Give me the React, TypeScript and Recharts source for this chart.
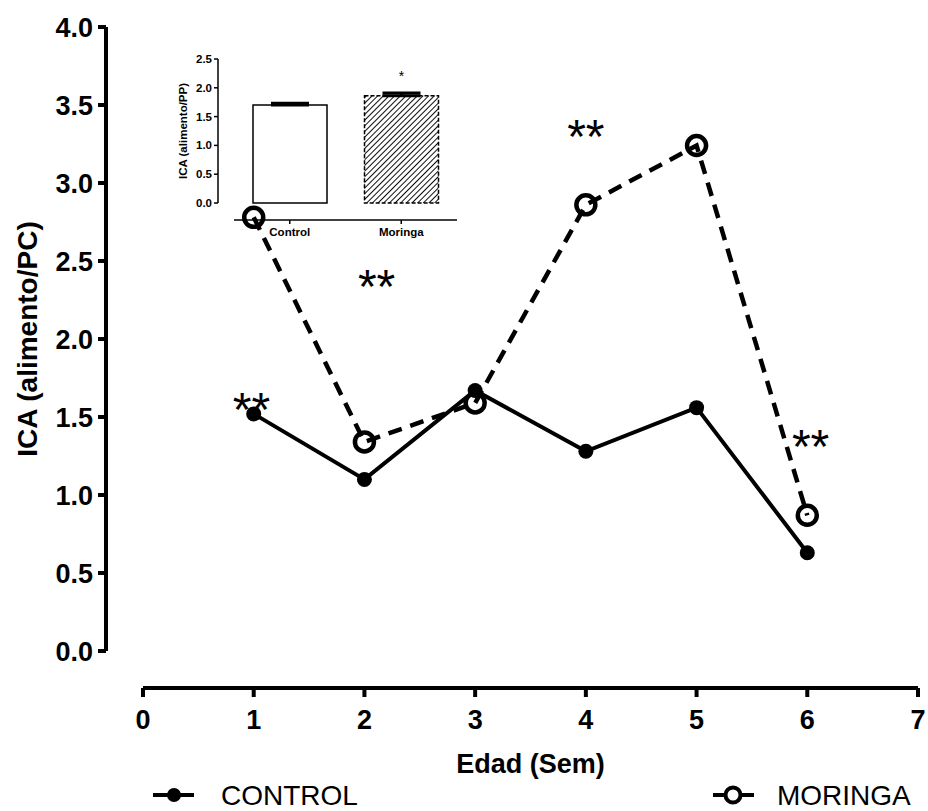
import React from 'react';
import {
  ComposedChart,
  Line,
  Scatter,
  XAxis,
  YAxis,
  Legend,
  BarChart,
  Bar,
  Cell,
  ErrorBar,
  LabelList,
} from 'recharts';

// ---- main chart data ----
const weeks = [1, 2, 3, 4, 5, 6];
const controlICA = [1.52, 1.1, 1.67, 1.28, 1.56, 0.63];
const moringaICA = [2.78, 1.34, 1.59, 2.86, 3.24, 0.87];
const xTicks = [0, 1, 2, 3, 4, 5, 6, 7];
const yTicks = [0, 0.5, 1, 1.5, 2, 2.5, 3, 3.5, 4];
const seriesNames = ['CONTROL', 'MORINGA'];

// significance marks (position in data units)
const sigX = [0.98, 2.11, 4.0, 6.03];
const sigY = [1.59, 2.38, 3.34, 1.35];
const sigText = ['**', '**', '**', '**'];

// ---- inset chart data ----
const insetGroups = ['Control', 'Moringa'];
const insetMeans = [1.7, 1.86];
const insetSem = [0.03, 0.05];
const insetSig = ['', '*'];
const insetTicks = [0, 0.5, 1, 1.5, 2, 2.5];

const FONT = "'Liberation Sans', Arial, Helvetica, sans-serif";

// Prism-style detached axes: offset of each axis line from the plot edge (px)
const MAIN_Y_SHIFT = 37;
const MAIN_X_SHIFT = 37;
const IN_Y_SHIFT = 16;
const IN_X_SHIFT = 17;

const mainData = weeks.map((w, i) => ({
  week: w,
  control: controlICA[i],
  moringa: moringaICA[i],
}));
const sigData = sigX.map((x, i) => ({ week: x, y: sigY[i], text: sigText[i] }));
const insetData = insetGroups.map((g, i) => ({
  group: g,
  mean: insetMeans[i],
  err: [0, insetSem[i]],
  sig: insetSig[i],
}));

const makeYTick = (shift: number, len: number, gap: number, fontSize: number, sw: number) => (p: any) => {
  const ax = p.x - shift;
  return (
    <g>
      <line x1={ax - len} x2={ax} y1={p.y} y2={p.y} stroke="#000" strokeWidth={sw} />
      <text
        x={ax - len - gap}
        y={p.y}
        dy="0.355em"
        textAnchor="end"
        fontSize={fontSize}
        fontWeight="bold"
        fill="#000"
        fontFamily={FONT}
      >
        {Number(p.payload.value).toFixed(1)}
      </text>
    </g>
  );
};

const makeXTick = (shift: number, len: number, gap: number, fontSize: number, sw: number) => (p: any) => {
  const ay = p.y + shift;
  return (
    <g>
      <line x1={p.x} x2={p.x} y1={ay} y2={ay + len} stroke="#000" strokeWidth={sw} />
      <text
        x={p.x}
        y={ay + len + gap}
        dy="0.71em"
        textAnchor="middle"
        fontSize={fontSize}
        fontWeight="bold"
        fill="#000"
        fontFamily={FONT}
      >
        {p.payload.value}
      </text>
    </g>
  );
};

const MainYTick = makeYTick(MAIN_Y_SHIFT, 8, 5, 27, 4);
const MainXTick = makeXTick(MAIN_X_SHIFT, 9, 13, 27, 4);
const InYTick = makeYTick(IN_Y_SHIFT, 4, 2, 11.5, 1.5);
const InXTick = makeXTick(IN_X_SHIFT, 4, 4, 11.5, 1.5);

const SigShape = (p: any) => (
  <text
    x={p.cx}
    y={p.cy}
    dy="0.475em"
    textAnchor="middle"
    fontSize={48}
    fill="#000"
    fontFamily={FONT}
  >
    {p.payload.text}
  </text>
);

const LegendContent = () => (
  <div style={{ position: 'relative', height: 30, width: 928 }}>
    <div style={{ position: 'absolute', left: 153, top: 0, height: 30, display: 'flex', alignItems: 'center' }}>
      <svg width={41} height={30}>
        <line x1={0} y1={14} x2={41} y2={14} stroke="#000" strokeWidth={4} />
        <circle cx={21} cy={14} r={7} fill="#000" />
      </svg>
      <span style={{ marginLeft: 27, fontSize: 28, lineHeight: '30px', color: '#000' }}>{seriesNames[0]}</span>
    </div>
    <div style={{ position: 'absolute', left: 713, top: 0, height: 30, display: 'flex', alignItems: 'center' }}>
      <svg width={41} height={30}>
        <line x1={0} y1={14} x2={11} y2={14} stroke="#000" strokeWidth={4} />
        <line x1={29} y1={14} x2={41} y2={14} stroke="#000" strokeWidth={4} />
        <circle cx={20} cy={14} r={7.5} fill="#fff" stroke="#000" strokeWidth={4} />
      </svg>
      <span style={{ marginLeft: 23, fontSize: 28, lineHeight: '30px', color: '#000' }}>{seriesNames[1]}</span>
    </div>
  </div>
);

export default function App() {
  return (
    <div style={{ position: 'relative', width: 928, height: 811, fontFamily: FONT, background: '#fff' }}>
      <style>{`
        body { margin: 0; }
        .ax-main-y { transform: translateX(-${MAIN_Y_SHIFT}px); }
        .ax-main-x { transform: translateY(${MAIN_X_SHIFT}px); }
        .ax-in-y { transform: translateX(-${IN_Y_SHIFT}px); }
        .ax-in-x { transform: translateY(${IN_X_SHIFT}px); }
      `}</style>
      <ComposedChart
        width={928}
        height={811}
        data={mainData}
        margin={{ top: 27, right: 10, bottom: 0, left: 0 }}
      >
        <XAxis
          className="ax-main-x"
          type="number"
          dataKey="week"
          domain={[0, 7]}
          ticks={xTicks}
          interval={0}
          height={130}
          axisLine={{ stroke: '#000', strokeWidth: 4 }}
          tickLine={false}
          tickSize={0}
          tickMargin={0}
          tick={MainXTick}
          label={{
            value: 'Edad (Sem)',
            position: 'insideTop',
            offset: 66 + MAIN_X_SHIFT,
            fill: '#000',
            fontSize: 27,
            fontWeight: 'bold',
          }}
        />
        <YAxis
          className="ax-main-y"
          type="number"
          domain={[0, 4]}
          ticks={yTicks}
          interval={0}
          width={143}
          axisLine={{ stroke: '#000', strokeWidth: 4 }}
          tickLine={false}
          tickSize={0}
          tickMargin={0}
          tick={MainYTick}
          label={{
            value: 'ICA (alimento/PC)',
            angle: -90,
            position: 'insideLeft',
            offset: 27,
            style: { textAnchor: 'middle' },
            fill: '#000',
            fontSize: 28,
            fontWeight: 'bold',
          }}
        />
        <Legend verticalAlign="bottom" wrapperStyle={{ left: 0, bottom: 0, width: 928 }} content={<LegendContent />} />
        <Line
          type="linear"
          dataKey="moringa"
          stroke="#000"
          strokeWidth={4.5}
          strokeDasharray="14 9"
          dot={{ r: 9.5, stroke: '#000', strokeWidth: 4.5, fill: 'none', strokeDasharray: 'none' }}
          isAnimationActive={false}
        />
        <Line
          type="linear"
          dataKey="control"
          stroke="#000"
          strokeWidth={4}
          dot={{ r: 7.5, stroke: '#000', strokeWidth: 0, fill: '#000' }}
          isAnimationActive={false}
        />
        <Scatter data={sigData} dataKey="y" shape={SigShape} isAnimationActive={false} />
      </ComposedChart>

      <div style={{ position: 'absolute', left: 150, top: 40 }}>
        <BarChart
          width={320}
          height={200}
          data={insetData}
          margin={{ top: 19, right: 13, bottom: 0, left: 0 }}
        >
          <defs>
            <pattern id="hatch" patternUnits="userSpaceOnUse" width={4} height={4} patternTransform="rotate(45)">
              <line x1={0} y1={0} x2={0} y2={4} stroke="#000" strokeWidth={1.9} />
            </pattern>
          </defs>
          <XAxis
            className="ax-in-x"
            dataKey="group"
            height={37}
            axisLine={{ stroke: '#000', strokeWidth: 1.5 }}
            tickLine={false}
            tickSize={0}
            tickMargin={0}
            tick={InXTick}
          />
          <YAxis
            className="ax-in-y"
            type="number"
            domain={[0, 2.5]}
            ticks={insetTicks}
            interval={0}
            width={84}
            axisLine={{ stroke: '#000', strokeWidth: 1.5 }}
            tickLine={false}
            tickSize={0}
            tickMargin={0}
            tick={InYTick}
            label={{
              value: 'ICA (alimento/PP)',
              angle: -90,
              position: 'insideLeft',
              offset: 33,
              style: { textAnchor: 'middle' },
              fill: '#000',
              fontSize: 11.5,
              fontWeight: 'bold',
            }}
          />
          <Bar dataKey="mean" barSize={74} isAnimationActive={false}>
            {insetData.map((d, i) => (
              <Cell
                key={d.group}
                fill={i === 0 ? '#fff' : 'url(#hatch)'}
                stroke="#000"
                strokeWidth={1.5}
                strokeDasharray={i === 0 ? undefined : '4 2'}
              />
            ))}
            <ErrorBar dataKey="err" width={19} strokeWidth={3} stroke="#000" direction="y" />
            <LabelList dataKey="sig" position="top" offset={15} fill="#000" fontSize={14} />
          </Bar>
        </BarChart>
      </div>
    </div>
  );
}
